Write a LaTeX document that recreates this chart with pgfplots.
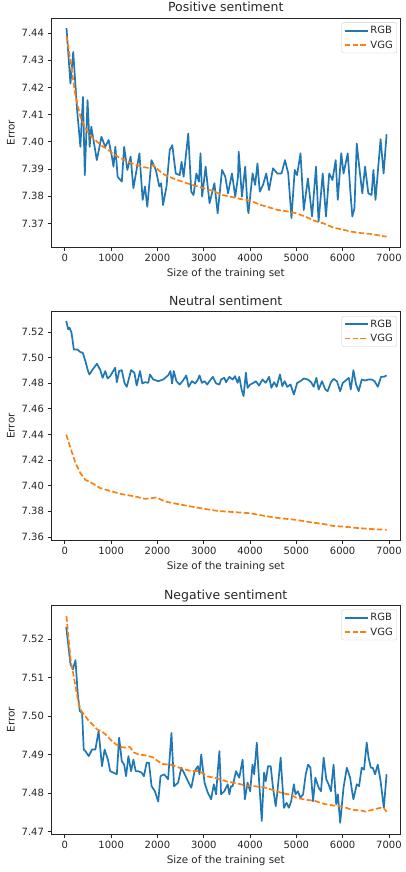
\documentclass[border=0pt]{standalone}
\usepackage{fontspec}
\setmainfont{DejaVu Sans}
\usepackage{pgfplots}
\pgfplotsset{compat=1.18}
\definecolor{tabblue}{HTML}{1F77B4}
\definecolor{taborange}{HTML}{FF7F0E}

\pgfplotsset{
  legend image code/.code={\draw[#1] (0pt,0pt) -- (23pt,0pt);},
  every axis title/.style={at={(0.5,1)}, anchor=base, inner sep=0pt, yshift=6pt,
    font=\fontsize{12.5}{14}\selectfont, text=black!85},
  mystyle/.style={
    scale only axis, width=349.5pt, height=229pt,
    xmin=-300, xmax=7250,
    xtick={0,1000,2000,3000,4000,5000,6000,7000},
    tick align=outside, tick pos=left, major tick length=3.5pt,
    axis line style={line width=0.8pt, black!85},
    every tick/.style={black!85, line width=0.8pt},
    tick label style={font=\fontsize{10}{12}\selectfont, text=black!85},
    label style={font=\fontsize{10.4}{12}\selectfont, text=black!85},
    xlabel={Size of the training set}, ylabel={Error},
    /pgf/number format/assume math mode=true,
    x tick label style={/pgf/number format/1000 sep={}},
    y tick label style={/pgf/number format/.cd, fixed, fixed zerofill, precision=2},
    scaled y ticks=false, scaled x ticks=false,
    legend style={at={(1,1)}, anchor=north east, xshift=-3.5pt, yshift=-4.5pt,
      draw=black!20, rounded corners=2pt, font=\fontsize{10}{12}\selectfont,
      text=black!85, inner xsep=2pt, inner ysep=1.5pt, row sep=1.5pt},
    legend cell align=left,
  },
  rgb/.style={tabblue, line width=1.7pt, line join=round},
  vgg/.style={taborange, line width=1.7pt, dash pattern=on 5.5pt off 2.4pt},
}

\begin{document}
\begin{tikzpicture}
\useasboundingbox (0,0) rectangle (405pt,-872pt);

% ---------- Positive ----------
\begin{axis}[mystyle, at={(51pt,-247pt)}, anchor=south west,
  title={Positive sentiment},
  ymin=7.3614, ymax=7.4455,
  ytick={7.37,7.38,7.39,7.40,7.41,7.42,7.43,7.44}]
\addplot[rgb] coordinates {
(35,7.4418) (120,7.4214) (180,7.4330) (264,7.4117) (335,7.3982) (390,7.4165)
(430,7.3878) (490,7.4153) (535,7.3982) (570,7.4056) (690,7.3933) (790,7.4019)
(870,7.3982) (945,7.4007) (1015,7.3946) (1050,7.3909) (1090,7.3982) (1140,7.3872)
(1230,7.3854) (1280,7.3982) (1350,7.3897) (1420,7.3946) (1480,7.3830) (1610,7.3958)
(1680,7.3787) (1730,7.3836) (1780,7.3762) (1870,7.3933) (1965,7.3897) (2040,7.3836)
(2080,7.3848) (2120,7.3768) (2195,7.3836) (2265,7.3970) (2320,7.3988) (2395,7.3884)
(2480,7.3878) (2520,7.3927) (2565,7.3872) (2665,7.4031) (2730,7.3817) (2780,7.3805)
(2840,7.3884) (2895,7.3854) (2930,7.3958) (2965,7.3799) (3040,7.3909) (3125,7.3775)
(3230,7.3848) (3300,7.3738) (3395,7.3897) (3465,7.3872) (3525,7.3811) (3610,7.3884)
(3680,7.3799) (3740,7.3872) (3755,7.3964) (3825,7.3799) (3895,7.3909) (3945,7.3762)
(3965,7.3738) (4055,7.3884) (4110,7.3842) (4160,7.3921) (4210,7.3817) (4280,7.3842)
(4350,7.3884) (4410,7.3823) (4495,7.3903) (4590,7.3884) (4680,7.3884) (4755,7.3933)
(4825,7.3884) (4895,7.3720) (4965,7.3897) (5015,7.3878) (5090,7.3958) (5160,7.3750)
(5250,7.3866) (5340,7.3726) (5425,7.3909) (5480,7.3707) (5570,7.3884) (5640,7.3726)
(5710,7.3884) (5780,7.3860) (5850,7.3933) (5895,7.3787) (5970,7.3958) (6020,7.3884)
(6110,7.3958) (6170,7.3811) (6210,7.3726) (6255,7.3756) (6305,7.3994) (6375,7.3884)
(6425,7.3811) (6485,7.3909) (6555,7.3811) (6625,7.3805) (6665,7.3897) (6710,7.3787)
(6820,7.4010) (6885,7.3884) (6950,7.4028)
};
\addlegendentry{RGB}
\addplot[vgg] coordinates {
(35,7.4390) (100,7.4320) (160,7.4250) (220,7.4180) (280,7.4130) (350,7.4085)
(420,7.4060) (500,7.4035) (600,7.4015) (700,7.4000) (800,7.3985) (900,7.3975)
(1000,7.3962) (1100,7.3950) (1200,7.3940) (1300,7.3933) (1400,7.3925) (1500,7.3918)
(1600,7.3912) (1700,7.3907) (1800,7.3905) (1900,7.3915) (2000,7.3900) (2100,7.3885)
(2200,7.3875) (2400,7.3862) (2600,7.3850) (2800,7.3840) (3000,7.3830) (3200,7.3820)
(3400,7.3805) (3600,7.3798) (3800,7.3790) (4000,7.3785) (4200,7.3770) (4400,7.3760)
(4600,7.3750) (4800,7.3745) (5000,7.3738) (5200,7.3725) (5400,7.3710) (5600,7.3700)
(5800,7.3685) (6000,7.3678) (6200,7.3670) (6400,7.3665) (6600,7.3662) (6800,7.3656)
(6950,7.3652)
};
\addlegendentry{VGG}
\end{axis}

% ---------- Neutral ----------
\begin{axis}[mystyle, at={(51pt,-540.5pt)}, anchor=south west,
  title={Neutral sentiment},
  ymin=7.3572, ymax=7.5360,
  ytick={7.36,7.38,7.40,7.42,7.44,7.46,7.48,7.50,7.52}]
\addplot[rgb] coordinates {
(29,7.5286) (72,7.5221) (100,7.5234) (143,7.5195) (193,7.5064) (265,7.5064)
(336,7.5043) (386,7.5038) (443,7.4973) (500,7.4895) (529,7.4868) (601,7.4908)
(694,7.4952) (765,7.4902) (815,7.4842) (872,7.4895) (922,7.4837) (979,7.4855)
(1086,7.4921) (1122,7.4808) (1172,7.4895) (1229,7.4902) (1287,7.4803) (1337,7.4772)
(1430,7.4902) (1501,7.4882) (1551,7.4782) (1623,7.4895) (1673,7.4798) (1730,7.4808)
(1801,7.4803) (1837,7.4868) (1909,7.4829) (2016,7.4816) (2123,7.4829) (2230,7.4861)
(2280,7.4895) (2316,7.4798) (2352,7.4895) (2409,7.4816) (2480,7.4790) (2552,7.4821)
(2623,7.4861) (2673,7.4772) (2745,7.4816) (2816,7.4798) (2873,7.4829) (2909,7.4861)
(2959,7.4803) (3017,7.4816) (3074,7.4790) (3124,7.4816) (3195,7.4850) (3267,7.4798)
(3338,7.4790) (3374,7.4829) (3445,7.4842) (3481,7.4808) (3553,7.4850) (3624,7.4829)
(3674,7.4855) (3731,7.4803) (3767,7.4850) (3817,7.4751) (3860,7.4699) (3910,7.4882)
(3946,7.4764) (4003,7.4790) (4075,7.4803) (4124,7.4816) (4196,7.4782) (4268,7.4829)
(4339,7.4803) (4411,7.4850) (4461,7.4764) (4518,7.4808) (4575,7.4772) (4646,7.4868)
(4697,7.4777) (4747,7.4816) (4804,7.4772) (4875,7.4790) (4947,7.4712) (5018,7.4803)
(5089,7.4816) (5161,7.4837) (5247,7.4829) (5318,7.4808) (5375,7.4772) (5433,7.4842)
(5483,7.4751) (5554,7.4816) (5626,7.4751) (5676,7.4738) (5747,7.4808) (5804,7.4834)
(5876,7.4816) (5947,7.4738) (6004,7.4803) (6076,7.4824) (6133,7.4842) (6176,7.4751)
(6233,7.4902) (6290,7.4790) (6347,7.4738) (6412,7.4829) (6483,7.4821) (6555,7.4829)
(6626,7.4829) (6690,7.4816) (6760,7.4772) (6830,7.4850) (6890,7.4850) (6950,7.4861)
};
\addlegendentry{RGB}
\addplot[vgg] coordinates {
(29,7.4399) (122,7.4294) (229,7.4177) (336,7.4098) (443,7.4046) (586,7.4020)
(765,7.3981) (1015,7.3955) (1229,7.3934) (1516,7.3916) (1730,7.3897) (1980,7.3908)
(2159,7.3877) (2445,7.3856) (2731,7.3837) (3017,7.3819) (3302,7.3803) (3600,7.3795)
(4000,7.3785) (4300,7.3765) (4600,7.3748) (5000,7.3733) (5300,7.3715) (5600,7.3700)
(5800,7.3685) (6000,7.3681) (6300,7.3670) (6600,7.3662) (6950,7.3655)
};
\addlegendentry{VGG}
\end{axis}

% ---------- Negative ----------
\begin{axis}[mystyle, at={(51pt,-834pt)}, anchor=south west,
  title={Negative sentiment},
  ymin=7.4694, ymax=7.5288,
  ytick={7.47,7.48,7.49,7.50,7.51,7.52}]
\addplot[rgb] coordinates {
(29,7.5231) (122,7.5134) (172,7.5121) (229,7.5145) (279,7.5056) (322,7.5013)
(372,7.5008) (407,7.4913) (443,7.4909) (515,7.4896) (586,7.4913) (658,7.4913)
(729,7.4961) (801,7.4870) (858,7.4913) (929,7.4887) (979,7.4857) (1051,7.4853)
(1122,7.4849) (1172,7.4944) (1229,7.4883) (1280,7.4874) (1322,7.4844) (1372,7.4896)
(1430,7.4857) (1480,7.4887) (1530,7.4857) (1587,7.4857) (1658,7.4853) (1708,7.4844)
(1766,7.4879) (1816,7.4879) (1873,7.4818) (1944,7.4805) (2016,7.4778) (2066,7.4844)
(2144,7.4849) (2230,7.4836) (2302,7.4956) (2359,7.4818) (2445,7.4827) (2516,7.4866)
(2588,7.4849) (2659,7.4831) (2731,7.4814) (2802,7.4857) (2873,7.4870) (2909,7.4849)
(2945,7.4900) (3017,7.4827) (3088,7.4801) (3159,7.4784) (3217,7.4823) (3267,7.4797)
(3302,7.4857) (3338,7.4909) (3374,7.4797) (3445,7.4805) (3517,7.4823) (3553,7.4797)
(3588,7.4818) (3624,7.4818) (3696,7.4857) (3767,7.4840) (3839,7.4887) (3888,7.4784)
(3946,7.4827) (4003,7.4805) (4053,7.4874) (4089,7.4849) (4146,7.4931) (4196,7.4831)
(4253,7.4728) (4303,7.4853) (4339,7.4831) (4389,7.4870) (4446,7.4870) (4496,7.4814)
(4554,7.4766) (4589,7.4801) (4661,7.4892) (4732,7.4762) (4789,7.4775) (4839,7.4762)
(4889,7.4779) (4946,7.4823) (4982,7.4797) (5032,7.4805) (5089,7.4788) (5146,7.4797)
(5203,7.4849) (5254,7.4874) (5304,7.4866) (5361,7.4779) (5411,7.4840) (5482,7.4814)
(5533,7.4805) (5590,7.4892) (5647,7.4836) (5697,7.4823) (5747,7.4805) (5804,7.4874)
(5861,7.4771) (5897,7.4797) (5947,7.4723) (6019,7.4814) (6090,7.4866) (6162,7.4840)
(6197,7.4810) (6233,7.4784) (6305,7.4823) (6355,7.4818) (6412,7.4866) (6462,7.4861)
(6520,7.4931) (6560,7.4892) (6610,7.4866) (6650,7.4866) (6700,7.4849) (6760,7.4874)
(6820,7.4831) (6890,7.4762) (6950,7.4849)
};
\addlegendentry{RGB}
\addplot[vgg] coordinates {
(35,7.5259) (80,7.5200) (130,7.5140) (180,7.5110) (240,7.5070) (300,7.5030)
(360,7.5012) (420,7.5003) (500,7.4990) (600,7.4978) (700,7.4965) (800,7.4960)
(900,7.4950) (1000,7.4937) (1100,7.4927) (1200,7.4920) (1300,7.4918) (1400,7.4920)
(1500,7.4905) (1600,7.4900) (1750,7.4898) (1900,7.4893) (2000,7.4884) (2100,7.4876)
(2300,7.4873) (2500,7.4865) (2700,7.4858) (2900,7.4857) (3100,7.4843) (3300,7.4838)
(3500,7.4830) (3700,7.4826) (3900,7.4820) (4100,7.4818) (4300,7.4815) (4500,7.4808)
(4700,7.4800) (4900,7.4795) (5000,7.4788) (5200,7.4783) (5400,7.4780) (5600,7.4772)
(5800,7.4768) (6000,7.4765) (6200,7.4757) (6400,7.4755) (6500,7.4752) (6650,7.4757)
(6820,7.4762) (6900,7.4760) (6950,7.4752)
};
\addlegendentry{VGG}
\end{axis}
\end{tikzpicture}
\end{document}
